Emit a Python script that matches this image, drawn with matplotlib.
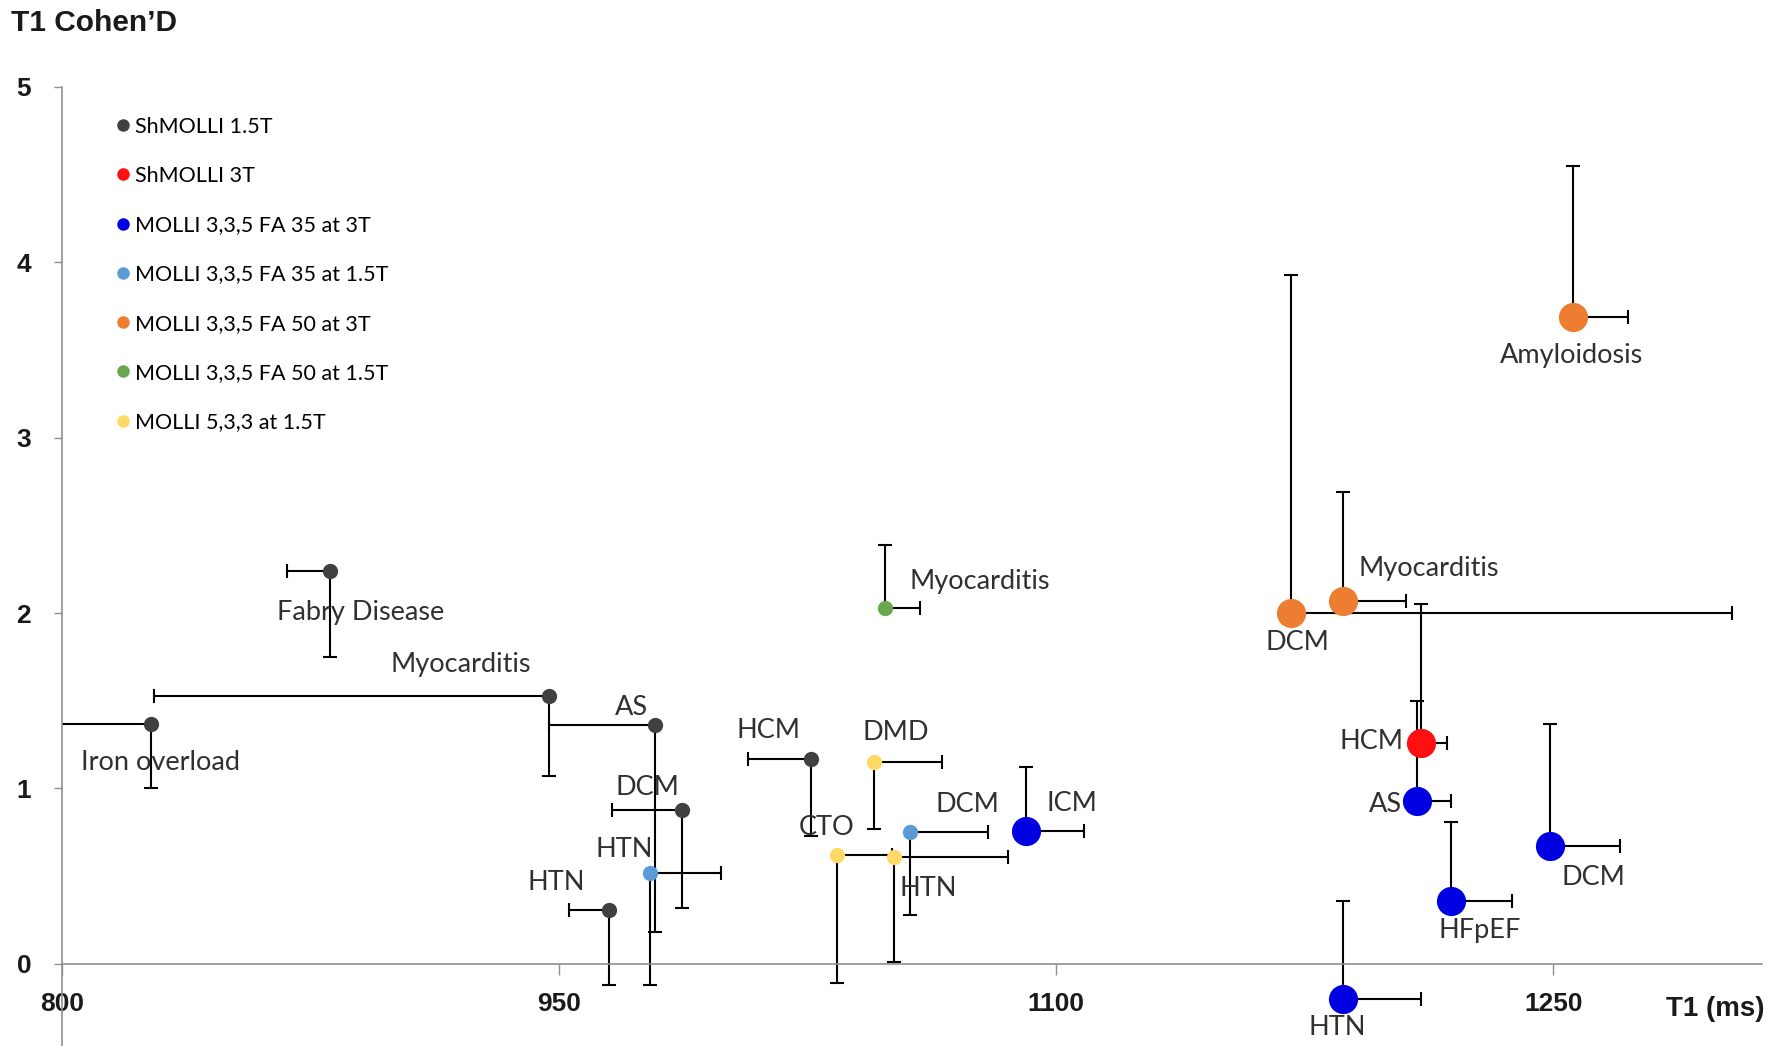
import matplotlib
matplotlib.use("Agg")
import matplotlib.pyplot as plt
from matplotlib.lines import Line2D

# ShMOLLI 1.5T
sh15_names = ["Iron overload", "Fabry Disease", "Myocarditis", "AS", "HCM", "DCM", "HTN"]
sh15_t1 = [827, 881, 947, 979, 1026, 987, 965]
sh15_d = [1.37, 2.24, 1.53, 1.36, 1.17, 0.88, 0.31]
sh15_t1_lo = [41, 13, 119, 32, 19, 21, 12]
sh15_d_lo = [0.37, 0.49, 0.46, 1.18, 0.44, 0.56, 0.43]

# ShMOLLI 3T
sh3_names = ["HCM"]
sh3_t1 = [1210]
sh3_d = [1.26]
sh3_t1_hi = [8]
sh3_d_hi = [0.79]

# MOLLI 3,3,5 FA 35 at 3T
m35_3_names = ["ICM", "AS", "HFpEF", "DCM", "HTN"]
m35_3_t1 = [1091, 1209, 1219, 1249, 1186.5]
m35_3_d = [0.76, 0.93, 0.36, 0.67, -0.20]
m35_3_t1_hi = [17.5, 10, 18.5, 21, 23.5]
m35_3_d_hi = [0.36, 0.57, 0.45, 0.70, 0.56]

# MOLLI 3,3,5 FA 35 at 1.5T
m35_15_names = ["HTN", "DCM"]
m35_15_t1 = [977.5, 1056]
m35_15_d = [0.52, 0.75]
m35_15_t1_hi = [21.5, 23.5]
m35_15_d_lo = [0.64, 0.47]

# MOLLI 3,3,5 FA 50 at 3T
m50_3_names = ["DCM", "Myocarditis", "Amyloidosis"]
m50_3_t1 = [1171, 1186.5, 1256]
m50_3_d = [2.00, 2.07, 3.69]
m50_3_t1_hi = [133, 19, 16.5]
m50_3_d_hi = [1.93, 0.62, 0.86]

# MOLLI 3,3,5 FA 50 at 1.5T
m50_15_names = ["Myocarditis"]
m50_15_t1 = [1048.5]
m50_15_d = [2.03]
m50_15_t1_hi = [10.5]
m50_15_d_hi = [0.36]

# MOLLI 5,3,3 at 1.5T
m533_names = ["DMD", "CTO", "HTN"]
m533_t1 = [1045, 1034, 1051]
m533_d = [1.15, 0.62, 0.61]
m533_t1_hi = [20.5, 16.5, 34.5]
m533_d_lo = [0.38, 0.73, 0.60]

legend_labels = ["ShMOLLI 1.5T", "ShMOLLI 3T", "MOLLI 3,3,5 FA 35 at 3T",
                 "MOLLI 3,3,5 FA 35 at 1.5T", "MOLLI 3,3,5 FA 50 at 3T",
                 "MOLLI 3,3,5 FA 50 at 1.5T", "MOLLI 5,3,3 at 1.5T"]
colors = ["#404040", "#FF1010", "#0000E0", "#5B9BD5", "#ED7D31", "#6AA84F", "#FFD966"]

x_ticks = [800, 950, 1100, 1250]
y_ticks = [0, 1, 2, 3, 4, 5]


def zeros(v):
    return [0] * len(v)


# (names, t1, d, t1 error [lo, hi], d error [lo, hi])
series = [
    (sh15_names, sh15_t1, sh15_d, [sh15_t1_lo, zeros(sh15_t1)], [sh15_d_lo, zeros(sh15_d)]),
    (sh3_names, sh3_t1, sh3_d, [zeros(sh3_t1), sh3_t1_hi], [zeros(sh3_d), sh3_d_hi]),
    (m35_3_names, m35_3_t1, m35_3_d, [zeros(m35_3_t1), m35_3_t1_hi], [zeros(m35_3_d), m35_3_d_hi]),
    (m35_15_names, m35_15_t1, m35_15_d, [zeros(m35_15_t1), m35_15_t1_hi], [m35_15_d_lo, zeros(m35_15_d)]),
    (m50_3_names, m50_3_t1, m50_3_d, [zeros(m50_3_t1), m50_3_t1_hi], [zeros(m50_3_d), m50_3_d_hi]),
    (m50_15_names, m50_15_t1, m50_15_d, [zeros(m50_15_t1), m50_15_t1_hi], [zeros(m50_15_d), m50_15_d_hi]),
    (m533_names, m533_t1, m533_d, [zeros(m533_t1), m533_t1_hi], [m533_d_lo, zeros(m533_d)]),
]

# marker diameter per series (points), 3T sequences drawn larger
marker_sizes = [11, 21, 21, 11, 21, 11, 11]

# label offsets from each point, in points
label_offsets = [
    [(6.6, -27.9), (22.2, -29.6), (-63.2, 22.2), (-17.2, 13.1), (-30.4, 20.5), (-24.6, 15.6), (-37.8, 19.7)],
    [(-35.3, 0.8)],
    [(32.8, 19.7), (-23.0, -2.5), (21.3, -21.3), (31.2, -22.2), (-4.1, -20.5)],
    [(-18.9, 16.4), (41.0, 19.7)],
    [(4.1, -21.3), (61.6, 23.0), (-0.8, -27.9)],
    [(68.1, 18.9)],
    [(15.6, 21.3), (-7.4, 19.7), (24.6, -23.0)],
]

label_font = ["Lato", "DejaVu Sans"]
bold_font = ["Liberation Sans", "DejaVu Sans"]
axis_grey = "#909090"

fig = plt.figure(figsize=(17.88, 10.46), dpi=100)
ax = fig.add_axes([0.0345, 0.0, 0.951, 0.917])

for (names, t1, d, t1_err, d_err), col, ms, offs in zip(series, colors, marker_sizes, label_offsets):
    ax.errorbar(t1, d, xerr=t1_err, yerr=d_err, fmt="none", ecolor="black",
                elinewidth=1.5, capsize=5, capthick=1.5, zorder=2)
    ax.plot(t1, d, "o", color=col, markersize=ms, markeredgewidth=0, zorder=3)
    for name, x, y, off in zip(names, t1, d, offs):
        ax.annotate(name, (x, y), xytext=off, textcoords="offset points",
                    ha="center", va="center", fontsize=19.5, color="#303030",
                    family=label_font, zorder=4)

ax.set_xlim(800, 1313)
ax.set_ylim(-0.468, 5.0)

for side in ["top", "right"]:
    ax.spines[side].set_visible(False)
ax.spines["bottom"].set_position(("data", 0))
for side in ["left", "bottom"]:
    ax.spines[side].set_color(axis_grey)
    ax.spines[side].set_linewidth(1.2)

ax.set_xticks(x_ticks)
ax.set_yticks(y_ticks)
ax.tick_params(axis="x", direction="out", length=8, width=1, color=axis_grey, pad=12)
ax.tick_params(axis="y", direction="out", length=6, width=1, color=axis_grey, pad=16)
for lab in ax.get_xticklabels() + ax.get_yticklabels():
    lab.set_fontsize(19)
    lab.set_fontweight("bold")
    lab.set_family(bold_font)
    lab.set_color("#1a1a1a")

handles = [Line2D([], [], linestyle="none", marker="o", markersize=9,
                  markeredgewidth=0, color=c) for c in colors]
ax.legend(handles, legend_labels, loc="upper left", bbox_to_anchor=(0.032, 0.969),
          frameon=False, borderaxespad=0, borderpad=0, handlelength=0.6,
          handletextpad=0.28, labelspacing=1.36,
          prop={"family": label_font, "size": 15.5})

fig.text(11 / 1788, 1 - 23 / 1046, "T1 Cohen\u2019D", ha="left", va="center",
         fontsize=21.5, fontweight="bold", family=bold_font, color="#1a1a1a")
fig.text(1765 / 1788, 1 - 1009 / 1046, "T1 (ms)", ha="right", va="center",
         fontsize=20, fontweight="bold", family=bold_font, color="#1a1a1a")

fig.savefig("out.png", dpi=100)
